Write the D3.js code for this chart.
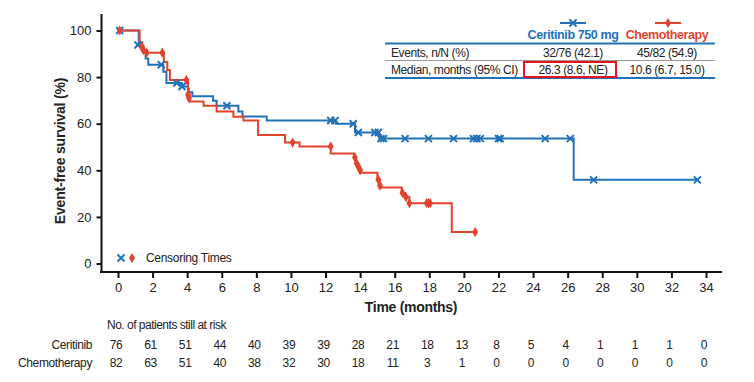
<!DOCTYPE html>
<html>
<head>
<meta charset="utf-8">
<script src="https://cdn.jsdelivr.net/npm/d3@7/dist/d3.min.js"></script>
<style>
  body { margin: 0; background: #fff; }
  svg text { font-family: "Liberation Sans", Arial, sans-serif; fill: #222; }
</style>
</head>
<body>
<svg id="chart" width="754" height="382"></svg>
<script>
// ---- data ----
var timeTicks = [0, 2, 4, 6, 8, 10, 12, 14, 16, 18, 20, 22, 24, 26, 28, 30, 32, 34];
var survivalTicks = [0, 20, 40, 60, 80, 100];

// [months, event-free survival %] where each step starts
var ceritinibSteps = [[0, 100], [1.2, 93.8], [1.4, 91.5], [1.6, 88], [1.75, 85.3], [2.62, 82.3], [2.8, 77.5],
  [3.7, 76], [4.05, 73.5], [4.3, 71.8], [5.5, 69.8], [5.7, 67.7], [6.96, 65.2], [7.2, 63.1], [8.6, 61.4],
  [12.6, 60], [13.7, 56.2], [15.1, 53.6], [26.35, 35.9], [33.6, 35.9]];
var ceritinibCensor = [[0.1, 100], [1.15, 93.8], [2.5, 85.3], [3.4, 77.5], [3.7, 76], [6.3, 67.7], [12.3, 61.4],
  [12.55, 61.4], [13.6, 60], [13.9, 56.2], [14.85, 56.2], [15.05, 56.2], [15.2, 53.6], [15.35, 53.6], [16.6, 53.6],
  [17.95, 53.6], [19.4, 53.6], [20.55, 53.6], [20.75, 53.6], [20.95, 53.6], [22.0, 53.6], [22.1, 53.6],
  [24.7, 53.6], [26.15, 53.6], [27.5, 35.9], [33.5, 35.9]];

var chemoSteps = [[0, 100], [1.25, 95], [1.4, 93], [1.5, 91.6], [1.6, 90.5], [2.65, 86.5], [2.85, 83], [3.0, 78.8],
  [4.05, 75], [4.1, 72], [4.15, 69.5], [4.95, 67.7], [5.7, 65.2], [6.67, 63], [7.25, 61.4], [8.1, 55.2],
  [9.66, 51.9], [10.5, 50.2], [12.3, 47.2], [13.65, 45.5], [13.75, 43], [13.85, 41.5], [14.0, 39], [15.0, 36],
  [15.1, 32.6], [16.4, 30.3], [16.6, 28.5], [16.85, 25.9], [19.3, 13.5], [20.65, 13.5]];
var chemoCensor = [[0.1, 100], [1.37, 93], [1.46, 91.6], [1.66, 90.5], [2.56, 90.5], [3.95, 78.8], [4.05, 72.5],
  [4.1, 71], [10.1, 51.9], [12.3, 50.2], [13.7, 45.5], [13.8, 43], [13.9, 41.5], [14.0, 40], [15.05, 36],
  [15.15, 33.5], [16.45, 30.3], [16.65, 28.5], [16.85, 25.9], [17.85, 25.9], [17.95, 25.9], [18.05, 25.9],
  [20.65, 13.5]];

var riskCeritinib = [76, 61, 51, 44, 40, 39, 39, 28, 21, 18, 13, 8, 5, 4, 1, 1, 1, 0];
var riskChemo = [82, 63, 51, 40, 38, 32, 30, 18, 11, 3, 1, 0, 0, 0, 0, 0, 0, 0];

var tableRows = ["Events, n/N (%)", "Median, months (95% CI)"];
var ceritinibCells = ["32/76 (42.1)", "26.3 (8.6, NE)"];
var chemoCells = ["45/82 (54.9)", "10.6 (6.7, 15.0)"];

var BLUE = "#2272b8", RED = "#e2432d";

var svg = d3.select("#chart");
var x = d3.scaleLinear().domain([0, 34]).range([118, 706]);
var y = d3.scaleLinear().domain([0, 100]).range([263.5, 30.5]);
var axisY = 272;

// axes
var gx = svg.append("g").attr("transform", "translate(0," + axisY + ")")
  .call(d3.axisBottom(x).tickValues(timeTicks).tickSize(6).tickSizeOuter(0).tickPadding(5));
gx.select(".domain").remove();
gx.selectAll(".tick line").attr("stroke", "#111").attr("stroke-width", 2);
gx.selectAll(".tick text").attr("font-size", 13).attr("fill", "#222").attr("font-family", "Liberation Sans, Arial, sans-serif");
svg.append("line").attr("x1", 100).attr("x2", 722).attr("y1", axisY).attr("y2", axisY)
  .attr("stroke", "#111").attr("stroke-width", 2);

var gy = svg.append("g").attr("transform", "translate(101.5,0)")
  .call(d3.axisLeft(y).tickValues(survivalTicks).tickSize(5).tickSizeOuter(0).tickPadding(5));
gy.select(".domain").remove();
gy.selectAll(".tick line").attr("stroke", "#111").attr("stroke-width", 2);
gy.selectAll(".tick text").attr("font-size", 13).attr("fill", "#222").attr("font-family", "Liberation Sans, Arial, sans-serif");
svg.append("line").attr("x1", 101.5).attr("x2", 101.5).attr("y1", 14).attr("y2", axisY + 1)
  .attr("stroke", "#111").attr("stroke-width", 2);

svg.append("text").attr("x", 411).attr("y", 312).attr("text-anchor", "middle")
  .attr("font-size", 14).attr("font-weight", "bold").attr("letter-spacing", -0.3).text("Time (months)");
svg.append("text").attr("transform", "translate(65,151) rotate(-90)").attr("text-anchor", "middle")
  .attr("font-size", 14).attr("font-weight", "bold").attr("letter-spacing", -0.2).text("Event-free survival (%)");

// curves
var line = d3.line().x(function (d) { return x(d[0]); }).y(function (d) { return y(d[1]); }).curve(d3.curveStepAfter);
svg.append("path").datum(ceritinibSteps).attr("d", line).attr("fill", "none").attr("stroke", BLUE).attr("stroke-width", 2);
svg.append("path").datum(chemoSteps).attr("d", line).attr("fill", "none").attr("stroke", RED).attr("stroke-width", 2);

function cross(sel, cx, cy, r) {
  sel.append("path").attr("d", "M" + (cx - r) + "," + (cy - r) + "L" + (cx + r) + "," + (cy + r) +
    "M" + (cx - r) + "," + (cy + r) + "L" + (cx + r) + "," + (cy - r))
    .attr("stroke", BLUE).attr("stroke-width", 2).attr("fill", "none");
}
var diamond = d3.symbol().type(d3.symbolDiamond).size(30);

var gc = svg.append("g");
ceritinibCensor.forEach(function (d) { cross(gc, x(d[0]), y(d[1]), 3.5); });
svg.append("g").selectAll("path").data(chemoCensor).enter().append("path")
  .attr("d", diamond).attr("fill", RED)
  .attr("transform", function (d) { return "translate(" + x(d[0]) + "," + y(d[1]) + ")"; });

// censoring legend
cross(svg, 121, 258, 3.5);
svg.append("path").attr("d", diamond).attr("fill", RED).attr("transform", "translate(132,258)");
svg.append("text").attr("x", 146).attr("y", 262).attr("font-size", 12).attr("letter-spacing", -0.3).text("Censoring Times");

// summary table
var col1 = 573, col2 = 667;
svg.append("line").attr("x1", 560).attr("x2", 586).attr("y1", 23).attr("y2", 23).attr("stroke", BLUE).attr("stroke-width", 2);
cross(svg, 573, 23, 3.5);
svg.append("line").attr("x1", 655).attr("x2", 681).attr("y1", 23).attr("y2", 23).attr("stroke", RED).attr("stroke-width", 2);
svg.append("path").attr("d", diamond).attr("fill", RED).attr("transform", "translate(668,23)");
svg.append("text").attr("x", col1).attr("y", 39).attr("text-anchor", "middle").attr("font-size", 12.5)
  .attr("font-weight", "bold").attr("letter-spacing", -0.4).style("fill", BLUE).text("Ceritinib 750 mg");
svg.append("text").attr("x", col2).attr("y", 39).attr("text-anchor", "middle").attr("font-size", 12.5)
  .attr("font-weight", "bold").attr("letter-spacing", -0.4).style("fill", RED).text("Chemotherapy");

svg.append("line").attr("x1", 385).attr("x2", 715).attr("y1", 43.5).attr("y2", 43.5).attr("stroke", BLUE).attr("stroke-width", 2);
svg.append("line").attr("x1", 385).attr("x2", 715).attr("y1", 60.5).attr("y2", 60.5).attr("stroke", "#999").attr("stroke-width", 1);
svg.append("line").attr("x1", 385).attr("x2", 715).attr("y1", 78).attr("y2", 78).attr("stroke", BLUE).attr("stroke-width", 2);

var rowY = [56.5, 74];
tableRows.forEach(function (r, i) {
  svg.append("text").attr("x", 391).attr("y", rowY[i]).attr("font-size", 12).attr("letter-spacing", -0.4).text(r);
  svg.append("text").attr("x", col1).attr("y", rowY[i]).attr("text-anchor", "middle").attr("font-size", 12).attr("letter-spacing", -0.4).text(ceritinibCells[i]);
  svg.append("text").attr("x", col2).attr("y", rowY[i]).attr("text-anchor", "middle").attr("font-size", 12).attr("letter-spacing", -0.4).text(chemoCells[i]);
});
svg.append("rect").attr("x", 524).attr("y", 62).attr("width", 92).attr("height", 15)
  .attr("fill", "none").attr("stroke", "#e8141c").attr("stroke-width", 2);

// number at risk
svg.append("text").attr("x", 107).attr("y", 329).attr("font-size", 12).attr("letter-spacing", -0.5).text("No. of patients still at risk");
svg.append("text").attr("x", 92).attr("y", 349).attr("text-anchor", "end").attr("font-size", 12).attr("letter-spacing", -0.4).text("Ceritinib");
svg.append("text").attr("x", 92).attr("y", 367).attr("text-anchor", "end").attr("font-size", 12).attr("letter-spacing", -0.4).text("Chemotherapy");
[riskCeritinib, riskChemo].forEach(function (row, j) {
  svg.append("g").selectAll("text").data(row).enter().append("text")
    .attr("x", function (d, i) { return x(timeTicks[i]) - 2; })
    .attr("y", j === 0 ? 349 : 367).attr("text-anchor", "middle").attr("font-size", 12)
    .attr("letter-spacing", -0.3).text(function (d) { return d; });
});
</script>
</body>
</html>
